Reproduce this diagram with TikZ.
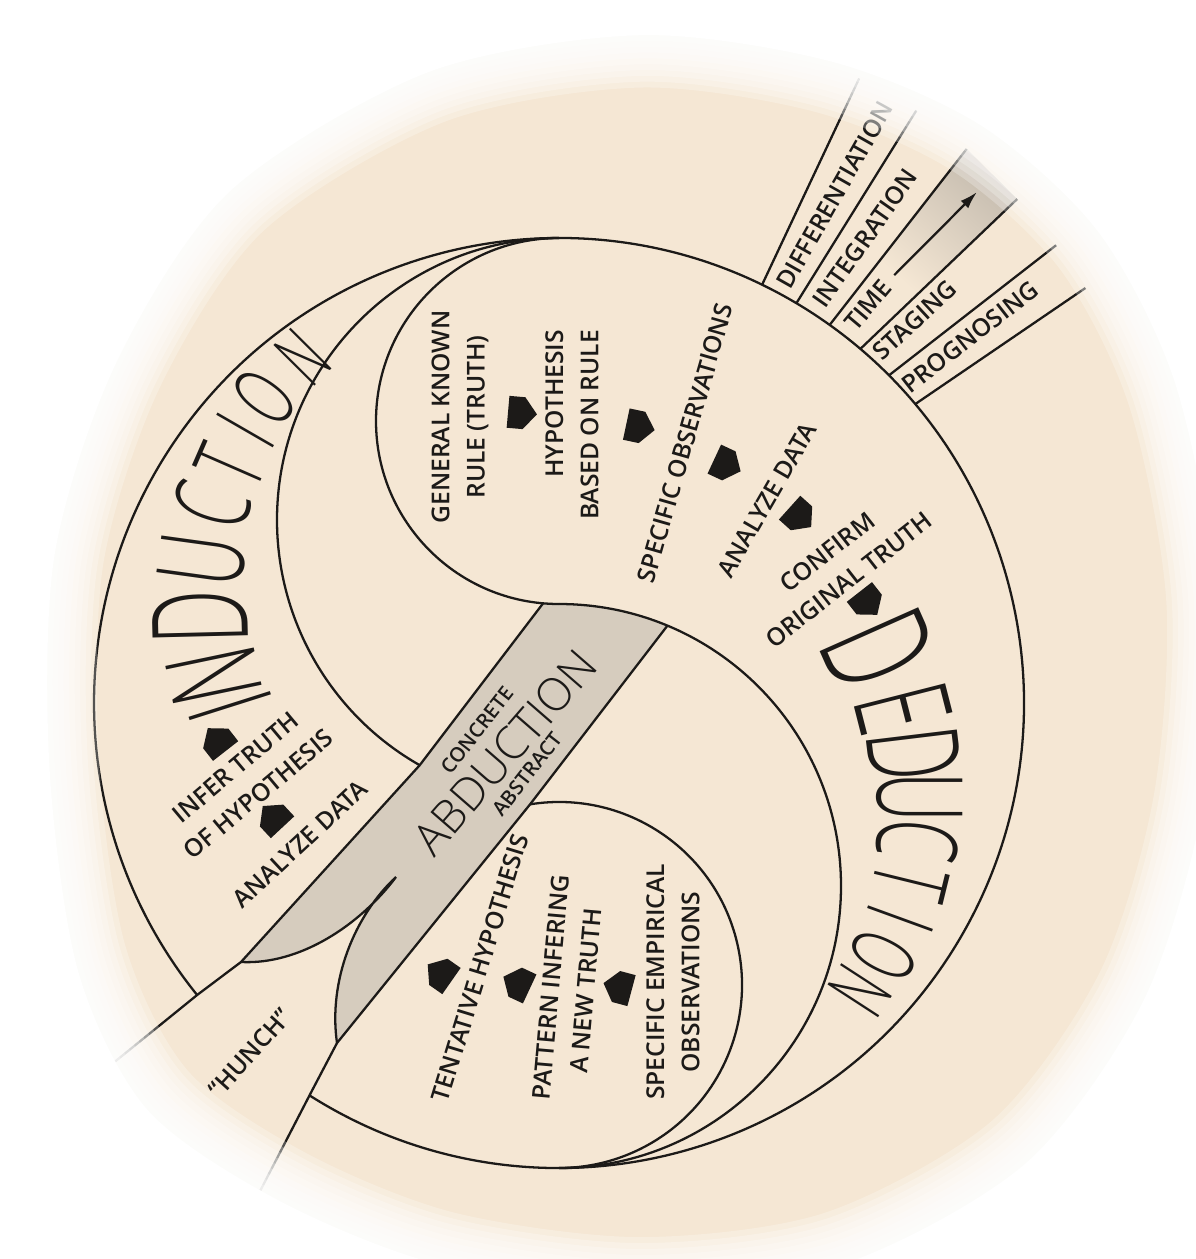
\documentclass[tikz,border=0pt]{standalone}
\usepackage{fontspec}
\setmainfont{Open Sans}
\IfFontExistsTF{Open Sans Light}
  {\newfontfamily\tallfont[FakeStretch=0.58]{Open Sans Light}\newfontfamily\thinfont{Open Sans Light}}
  {\newfontfamily\tallfont[FakeStretch=0.58]{Open Sans}\newfontfamily\thinfont{Open Sans}}
\IfFontExistsTF{Open Sans Semibold}
  {\newfontfamily\stepfont{Open Sans Semibold}}
  {\IfFontExistsTF{Open Sans SemiBold}
    {\newfontfamily\stepfont{Open Sans SemiBold}}
    {\newfontfamily\stepfont[FakeBold=1]{Open Sans}}}
\usepackage{tikz}
\usetikzlibrary{arrows.meta}
\definecolor{paper}{RGB}{245,231,212}
\definecolor{bandgrey}{RGB}{214,204,190}
\definecolor{ink}{RGB}{28,26,24}

\begin{document}
\begin{tikzpicture}[x=0.02cm, y=0.02cm, >=Latex,
    rim/.style={draw=ink, line width=1.3pt},
    steptext/.style={font=\stepfont\fontsize{14}{20}\selectfont, text=ink, align=center, inner sep=0pt},
    sidetext/.style={font=\stepfont\fontsize{11.5}{14}\selectfont, text=ink, inner sep=0pt},
    abdtext/.style={font=\thinfont\fontsize{26}{30}\selectfont, text=ink, inner sep=0pt},
    bigletter/.style={text=ink, inner sep=0pt}]
    \useasboundingbox (0,0) rectangle (1196,-1259);
    \fill[paper] (0,0) rectangle (1196,-1259);

    \coordinate (O) at (559,-703);
    \coordinate (b1) at (543.1,-603.3);
    \coordinate (b2) at (667.4,-625.7);
    \coordinate (a1) at (419.7,-765.2);
    \coordinate (l1) at (530.1,-804.3);
    \coordinate (t1) at (241,-962);
    \coordinate (t2) at (337,-1043);
    \coordinate (tip) at (396,-877);
    \path (O) ++(218.9:465) coordinate (c1);
    \path (O) ++(237.55:465) coordinate (c2);
    \coordinate (e1) at (112,-1064);
    \coordinate (e2) at (258,-1195);

    % time band shading
    \shade[top color=bandgrey!85!black!60!bandgrey, bottom color=paper, shading angle=-42]
      (875,-266) -- (966.6,-148.8) -- (1017.1,-198.9) -- (915,-297) -- cycle;

    % abduction band
    \fill[bandgrey] (b1) arc[start angle=265, end angle=270, radius=183]
      arc[start angle=90, end angle=67.4, radius=282] -- (l1) -- (t2)
      .. controls (328,-980) and (355,-915) .. (tip)
      .. controls (360,-925) and (300,-965) .. (t1) -- (a1) -- cycle;

    % circles
    \draw[rim] (c2) arc[start angle=237.55, end angle=578.9, radius=465];
    \draw[rim] (559,-238) arc[start angle=90, end angle=240.4, radius=282];
    \draw[rim] (559,-238) arc[start angle=90, end angle=270, radius=183];
    \draw[rim] (559,-604) arc[start angle=90, end angle=-90, radius=282];
    \draw[rim] (l1) arc[start angle=99.1, end angle=-90, radius=183];

    % band edges and hunch
    \draw[rim] (e1) -- (c1) -- (t1) -- (a1) -- (b1);
    \draw[rim] (b2) -- (l1) -- (t2) -- (c2) -- (e2);
    \draw[rim] (t1) .. controls (300,-965) and (360,-925) .. (tip)
      .. controls (355,-915) and (328,-980) .. (t2);

    % time fan
    \foreach \a/\d/\l in {64.1/64.8/228, 59.3/58.1/227, 54.4/52.1/223, 49.6/43.7/217, 44.8/37.9/212, 40/34.3/206}
      \draw[rim] (O) ++(\a:465) -- ++(\d:\l);
    \node[steptext, rotate=60.5] (diff) at (835,-195) {DIFFERENTIATION};
    \node[steptext, rotate=55] (integ) at (865,-238) {INTEGRATION};
    \node[steptext, rotate=50] (time) at (868,-305) {TIME};
    \node[steptext, rotate=43] (staging) at (915,-320) {STAGING};
    \node[steptext, rotate=38] (progn) at (970,-337) {PROGNOSING};
    \coordinate (timetip) at (977,-192);
    \draw[ink, line width=1.3pt, -{Latex[length=10pt,width=6pt]}, shorten <=6] (time.east) -- (timetip);

    % flow arrows
    \foreach \x/\y/\a in {522/413/-5, 640/427/-12, 727/465/-25, 800/517/-42, 868/603/-52,
                          618/987/165, 517/983/155, 440/973/145, 273/817/133, 217/740/128}
      \fill[ink, shift={(\x,-\y)}, rotate=\a] (-14,-16) -- (2,-16) -- (15,0) -- (2,16) -- (-14,16) -- cycle;

    % deduction steps
    \node[steptext, rotate=90] (rule) at (460,-417) {GENERAL KNOWN\\RULE (TRUTH)};
    \node[steptext, rotate=90, align=right] (hypo) at (572,-425) {HYPOTHESIS\\BASED ON RULE};
    \node[steptext, rotate=74] (specobs) at (685,-443) {SPECIFIC OBSERVATIONS};
    \node[steptext, rotate=60] (dedata) at (767,-500) {ANALYZE DATA};
    \node[steptext, rotate=38] (confirm) at (838,-566) {CONFIRM\\ORIGINAL TRUTH};

    % induction steps
    \node[steptext, rotate=73] (tentative) at (480,-968) {TENTATIVE HYPOTHESIS};
    \node[steptext, rotate=85] (pattern) at (568,-989) {PATTERN INFERING\\A NEW TRUTH};
    \node[steptext, rotate=90] (empirical) at (673,-982) {SPECIFIC EMPIRICAL\\OBSERVATIONS};
    \node[steptext, rotate=40] (infer) at (247,-781) {INFER TRUTH\\OF HYPOTHESIS};
    \node[steptext, rotate=43] (indata) at (300,-844) {ANALYZE DATA};
    \node[steptext, rotate=48] (hunch) at (250,-1053) {“HUNCH”};

    % abduction
    \node[sidetext, rotate=52] (concrete) at (477,-730) {CONCRETE};
    \node[abdtext, rotate=49] (abduction) at (505,-752) {ABDUCTION};
    \node[sidetext, rotate=52] (abstract) at (527,-774) {ABSTRACT};

    % big words along the crescents
    \foreach \l/\x/\y/\r/\s [count=\i] in {I/230/706/107.6/68, N/214/676/101.8/72, D/200/617/91.4/76,
        U/202/560/82.2/68, C/212/505/73/60, T/230/466/66.4/55, I/246/430/60/52, O/264/397/54.2/50, N/303/357/45.2/46}
      \node[bigletter, rotate=\r, font=\tallfont\fontsize{\s}{\s}\selectfont] (ind\i) at (\x,-\y) {\l};
    \foreach \l/\x/\y/\r/\s [count=\i] in {D/878/650/-66/86, E/903/708/-75.7/75, D/914/754/-83.1/73,
        U/920/797/-90/68, C/918/841/-97.1/64, T/911/882/-103.8/59, I/900/919/-110/55, O/883/956/-116.5/51, N/860/991/-123/48}
      \node[bigletter, rotate=\r, font=\tallfont\fontsize{\s}{\s}\selectfont] (ded\i) at (\x,-\y) {\l};

    % soft edge of the paper
    \begin{scope}[overlay, shift={(632,-655)}]
      \foreach \s in {0.975,0.985,...,1.055}
        \fill[white, opacity=0.25, even odd rule, scale=\s] (-3000,-3000) rectangle (3000,3000)
          plot[smooth cycle] coordinates {(8,582) (188,557) (328,497) (438,397) (510,255) (548,55) (535,-145)
            (480,-325) (370,-477) (198,-572) (8,-597) (-182,-572) (-332,-512) (-455,-427) (-520,-297)
            (-547,-105) (-542,95) (-484,275) (-378,435) (-192,547)};
      \fill[white, even odd rule, scale=1.065] (-3000,-3000) rectangle (3000,3000)
        plot[smooth cycle] coordinates {(8,582) (188,557) (328,497) (438,397) (510,255) (548,55) (535,-145)
          (480,-325) (370,-477) (198,-572) (8,-597) (-182,-572) (-332,-512) (-455,-427) (-520,-297)
          (-547,-105) (-542,95) (-484,275) (-378,435) (-192,547)};
    \end{scope}
\end{tikzpicture}
\end{document}
